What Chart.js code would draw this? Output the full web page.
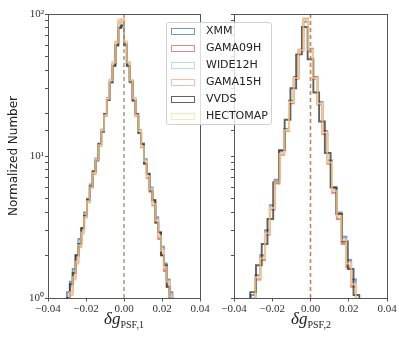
<!DOCTYPE html>
<html>
<head>
<meta charset="utf-8">
<script src="https://cdn.jsdelivr.net/npm/chart.js@4.4.1/dist/chart.umd.min.js"></script>
<style>
  html, body { margin: 0; padding: 0; background: #fff; }
  #wrap { position: relative; width: 399px; height: 342px; overflow: hidden; }
  #c1 { position: absolute; left: 0; top: 0; }
  #c2 { position: absolute; left: 215px; top: 0; }
  .xtitle { position: absolute; top: 309px; width: 100px; text-align: center;
            font-family: 'Liberation Serif', serif; font-size: 17px; color: #222; }
  .xtitle sub { font-style: normal; font-size: 10px; }
  #legend { position: absolute; left: 166px; top: 22px; width: 104px; height: 101px;
            background: rgba(255,255,255,0.8); border: 1px solid #d0d0d0; border-radius: 3px;
            font-family: 'DejaVu Sans', sans-serif; font-size: 11px; color: #222; }
  .row { position: absolute; left: 4px; height: 14px; white-space: nowrap; }
  .row span.h { position: absolute; left: 0; top: 3px; width: 22px; height: 5px; border: 1.8px solid; }
  .row span.t { position: absolute; left: 35px; top: -1px; }
</style>
</head>
<body>
<div id="wrap">
  <canvas id="c1" width="215" height="342"></canvas>
  <canvas id="c2" width="184" height="342"></canvas>
  <div class="xtitle" style="left:74px"><i>δg</i><sub>PSF,1</sub></div>
  <div class="xtitle" style="left:261px"><i>δg</i><sub>PSF,2</sub></div>
  <div id="legend"></div>
</div>
<script>
// regions and their outline colours
const regions = ['XMM', 'GAMA09H', 'WIDE12H', 'GAMA15H', 'VVDS', 'HECTOMAP'];
const colors = [
  'rgba(76,114,176,0.75)',
  'rgba(221,85,85,0.7)',
  'rgba(160,200,232,0.7)',
  'rgba(250,160,128,0.7)',
  'rgba(30,30,30,0.7)',
  'rgba(255,218,140,0.7)',
];

const xTicks = [-0.04, -0.02, 0, 0.02, 0.04];
const refLineX = 0;

// bin edges, delta g_PSF,1
const edgesLeft = [-0.0300, -0.0285, -0.0270, -0.0255, -0.0240, -0.0225, -0.0210, -0.0195, -0.0180, -0.0165,
  -0.0150, -0.0135, -0.0120, -0.0105, -0.0090, -0.0075, -0.0060, -0.0045, -0.0030, -0.0015, 0,
  0.0015, 0.0030, 0.0045, 0.0060, 0.0075, 0.0090, 0.0105, 0.0120, 0.0135, 0.0150,
  0.0165, 0.0180, 0.0195, 0.0210, 0.0225, 0.0240, 0.0255, 0.0270, 0.0285, 0.0300];

// normalized counts per bin, delta g_PSF,1
const xmm1 = [0.8, 1.1, 1.3, 1.6, 2.0, 2.6, 3.1, 4.0, 5.0, 6.3, 7.7, 9.6, 12.0, 15.3, 19.6, 25.5, 33, 44, 61, 80,
  82, 60, 44, 33, 25, 19.5, 15.2, 12.0, 9.5, 7.4, 6.0, 4.8, 3.7, 2.9, 2.3, 1.75, 1.35, 1.1, 0.85, 0.6];
const gama09h1 = [0.6, 0.85, 1.1, 1.4, 1.8, 2.3, 2.9, 3.7, 4.8, 6.0, 7.5, 9.4, 11.8, 15.0, 19.2, 25.0, 34, 45, 63, 88,
  90, 63, 45, 34, 25.5, 19.2, 14.8, 11.5, 9.0, 7.0, 5.6, 4.5, 3.4, 2.6, 2.0, 1.55, 1.2, 0.95, 0.7, 0.5];
const wide12h1 = [0.7, 0.95, 1.2, 1.5, 1.9, 2.5, 3.0, 3.9, 4.9, 6.2, 7.6, 9.5, 11.9, 15.2, 19.4, 25.2, 33.5, 45, 62, 85,
  86, 62, 45, 33.5, 25.3, 19.4, 15.0, 11.8, 9.3, 7.3, 5.9, 4.7, 3.6, 2.8, 2.2, 1.7, 1.3, 1.05, 0.8, 0.55];
const gama15h1 = [0.6, 0.8, 1.05, 1.35, 1.75, 2.3, 2.85, 3.7, 4.7, 6.0, 7.5, 9.5, 11.9, 15.1, 19.5, 25.5, 34.5, 46, 64, 91,
  92, 64, 46, 34, 25.6, 19.3, 14.9, 11.6, 9.1, 7.1, 5.7, 4.5, 3.5, 2.7, 2.1, 1.6, 1.25, 1.0, 0.75, 0.5];
const vvds1 = [0.7, 1.0, 1.25, 1.5, 2.0, 2.4, 3.1, 3.8, 4.9, 6.1, 7.8, 9.3, 12.2, 14.8, 19.8, 24.8, 33, 43, 60, 80,
  83, 61, 43, 33.5, 24.5, 19.8, 14.5, 12.2, 8.8, 7.5, 5.7, 4.9, 3.4, 2.9, 2.0, 1.7, 1.2, 1.0, 0.8, 0.5];
const hectomap1 = [0.6, 0.85, 1.1, 1.4, 1.8, 2.35, 2.9, 3.7, 4.8, 6.0, 7.6, 9.4, 11.9, 15.1, 19.4, 25.3, 34, 45.5, 63, 89,
  90, 63.5, 45.5, 34, 25.5, 19.4, 15.0, 11.7, 9.2, 7.2, 5.8, 4.6, 3.5, 2.75, 2.15, 1.65, 1.3, 1.02, 0.78, 0.55];

// bin edges, delta g_PSF,2 (VVDS has its own, coarser binning)
const edgesRight = [-0.03125, -0.02875, -0.02625, -0.02375, -0.02125, -0.01875, -0.01625, -0.01375, -0.01125,
  -0.00875, -0.00625, -0.00375, -0.00125, 0.00125, 0.00375, 0.00625, 0.00875, 0.01125, 0.01375,
  0.01625, 0.01875, 0.02125, 0.02375, 0.02625, 0.02875, 0.03125];
const edgesRightVvds = [-0.0315, -0.0285, -0.0255, -0.0225, -0.0195, -0.0165, -0.0135, -0.0105, -0.0075, -0.0045,
  -0.0015, 0.0015, 0.0045, 0.0075, 0.0105, 0.0135, 0.0165, 0.0195, 0.0225, 0.0255, 0.0285, 0.0315];

// normalized counts per bin, delta g_PSF,2
const xmm2 = [0.7, 1.05, 1.45, 2.0, 3.0, 4.5, 6.8, 10.8, 15.5, 24.5, 36, 56, 88, 57, 36, 24, 15, 9.3, 6.0, 4.0, 2.7, 1.85, 1.35, 0.95, 0.6];
const gama09h2 = [0.6, 0.95, 1.35, 1.85, 2.8, 4.2, 6.4, 10.2, 15.0, 23.5, 35, 55, 92, 55, 35, 23, 14.3, 8.8, 5.5, 3.6, 2.4, 1.65, 1.2, 0.85, 0.55];
const wide12h2 = [0.65, 1.0, 1.4, 1.95, 2.9, 4.4, 6.6, 10.5, 15.3, 24, 35.5, 56, 90, 56, 35.5, 23.5, 14.8, 9.1, 5.8, 3.9, 2.6, 1.8, 1.3, 0.9, 0.6];
const gama15h2 = [0.6, 0.95, 1.35, 1.9, 2.85, 4.3, 6.5, 10.3, 15.1, 23.8, 35.3, 55.5, 93, 55.5, 35, 23.2, 14.5, 9.0, 5.7, 3.8, 2.5, 1.7, 1.25, 0.85, 0.55];
const vvds2 = [0.7, 1.1, 1.7, 2.4, 3.6, 6.5, 11, 18, 30, 52, 81, 48, 28, 17.5, 10.5, 6.0, 3.9, 2.5, 1.6, 1.05, 0.6];
const hectomap2 = [0.6, 0.95, 1.4, 1.9, 2.85, 4.3, 6.5, 10.4, 15.2, 24, 35.5, 55.5, 91, 56, 35.3, 23.4, 14.6, 9.0, 5.7, 3.8, 2.55, 1.75, 1.25, 0.85, 0.55];

const FLOOR = 0.1; // histogram baseline, below the log axis so it gets clipped
const SUP = ['\u2070', '\u00b9', '\u00b2'];

function stepPoints(edges, counts) {
  const pts = [{ x: edges[0], y: FLOOR }];
  counts.forEach((c, i) => pts.push({ x: edges[i], y: c }));
  pts.push({ x: edges[edges.length - 1], y: counts[counts.length - 1] });
  pts.push({ x: edges[edges.length - 1], y: FLOOR });
  return pts;
}

function buildDatasets(series, refColor) {
  const ds = series.map((s, i) => ({
    label: regions[i],
    data: stepPoints(s.edges, s.counts),
    borderColor: colors[i],
    borderWidth: 1.9,
    pointRadius: 0,
    stepped: 'after',
    fill: false,
    order: series.length - i,
  }));
  ds.push({
    label: 'zero',
    data: [{ x: refLineX, y: 1 }, { x: refLineX, y: 100 }],
    borderColor: refColor,
    borderWidth: 1.6,
    borderDash: [4, 3],
    pointRadius: 0,
    order: -1,
  });
  return ds;
}

const framePlugin = {
  id: 'frame',
  afterDatasetsDraw(chart) {
    const a = chart.chartArea;
    const ctx = chart.ctx;
    ctx.save();
    ctx.strokeStyle = '#555';
    ctx.lineWidth = 1;
    ctx.strokeRect(Math.round(a.left) + 0.5, Math.round(a.top) + 0.5,
      Math.round(a.right - a.left), Math.round(a.bottom - a.top));
    ctx.restore();
  },
};

function fmtX(v) {
  return v.toFixed(2).replace('-', '\u2212');
}

function makeChart(id, datasets, opts) {
  const ctx = document.getElementById(id).getContext('2d');
  // eslint-disable-next-line no-undef
  return new Chart(ctx, {
    type: 'line',
    data: { datasets: datasets },
    plugins: [framePlugin],
    options: {
      responsive: false,
      animation: false,
      layout: { padding: { top: 14, right: opts.padRight, bottom: 0, left: 0 } },
      plugins: { legend: { display: false }, tooltip: { enabled: false } },
      scales: {
        x: {
          type: 'linear',
          min: -0.04,
          max: 0.04,
          afterBuildTicks: (s) => { s.ticks = xTicks.map((v) => ({ value: v })); },
          afterFit: (s) => { s.height = 44; },
          ticks: {
            callback: fmtX,
            color: '#333',
            padding: 1,
            maxRotation: 0,
            font: { family: 'Liberation Serif', size: 11 },
          },
          grid: { drawOnChartArea: false, tickLength: 3.5, color: '#555' },
          border: { color: '#555' },
        },
        y: {
          type: 'logarithmic',
          min: 1,
          max: 100,
          afterFit: (s) => { s.width = opts.yWidth; },
          ticks: {
            autoSkip: false,
            padding: 1,
            color: '#333',
            font: { family: 'Liberation Serif', size: 11 },
            callback: (v) => {
              if (!opts.yLabels) return '';
              const e = Math.log10(v);
              return Number.isInteger(e) ? '10' + SUP[e] : '';
            },
          },
          grid: { drawOnChartArea: false, tickLength: 3, color: '#555' },
          border: { color: '#555' },
          title: {
            display: opts.yLabels,
            text: 'Normalized Number',
            color: '#222',
            padding: { top: 7, bottom: 0 },
            font: { family: 'DejaVu Sans', size: 12 },
          },
        },
      },
    },
  });
}

makeChart('c1', buildDatasets([
  { edges: edgesLeft, counts: xmm1 },
  { edges: edgesLeft, counts: gama09h1 },
  { edges: edgesLeft, counts: wide12h1 },
  { edges: edgesLeft, counts: gama15h1 },
  { edges: edgesLeft, counts: vvds1 },
  { edges: edgesLeft, counts: hectomap1 },
], 'rgba(150,120,95,0.75)'), { padRight: 15, yWidth: 48, yLabels: true });

makeChart('c2', buildDatasets([
  { edges: edgesRight, counts: xmm2 },
  { edges: edgesRight, counts: gama09h2 },
  { edges: edgesRight, counts: wide12h2 },
  { edges: edgesRight, counts: gama15h2 },
  { edges: edgesRightVvds, counts: vvds2 },
  { edges: edgesRight, counts: hectomap2 },
], 'rgba(190,110,60,0.85)'), { padRight: 12, yWidth: 19, yLabels: false });

// legend overlay spanning both panels
const legend = document.getElementById('legend');
regions.forEach((name, i) => {
  const row = document.createElement('div');
  row.className = 'row';
  row.style.top = (2 + i * 17) + 'px';
  row.innerHTML = '<span class="h" style="border-color:' + colors[i] + '"></span><span class="t">' + name + '</span>';
  legend.appendChild(row);
});
</script>
</body>
</html>
